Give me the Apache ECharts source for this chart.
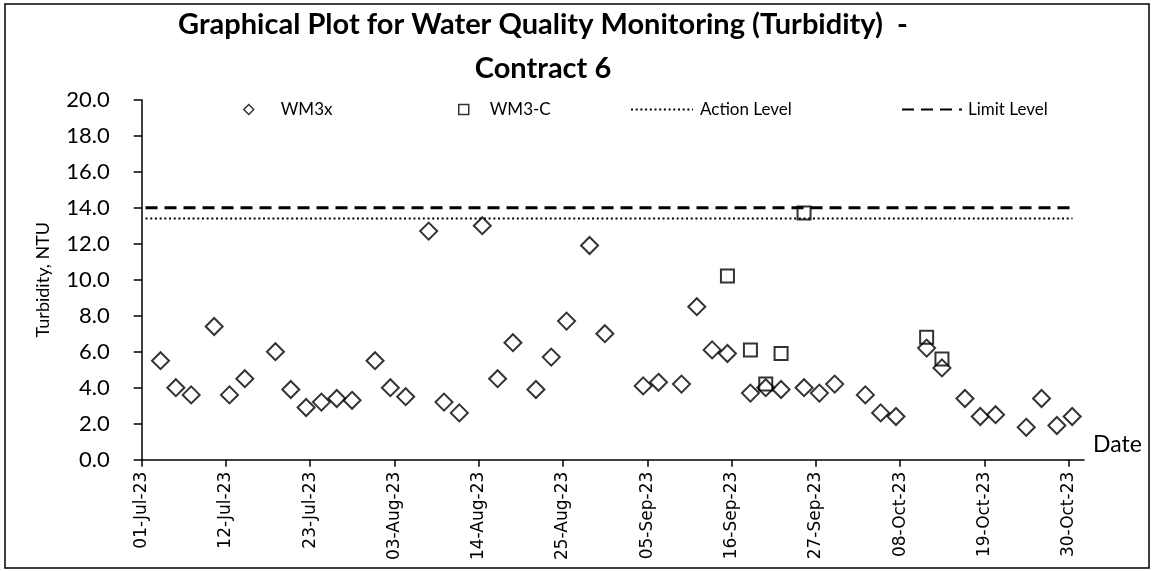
<!DOCTYPE html>
<html>
<head>
<meta charset="utf-8">
<title>Turbidity - Contract 6</title>
<script src="https://cdn.jsdelivr.net/npm/echarts@6/dist/echarts.min.js"></script>
<style>
  html, body { margin: 0; padding: 0; background: #fff; }
  #chart { width: 1152px; height: 571px; }
</style>
</head>
<body>
<div id="chart"></div>
<script>
// Sampling dates and turbidity readings (NTU)
const sampleTime = '11:00';
const wm3xDates = [
  '2023-07-03', '2023-07-05', '2023-07-07', '2023-07-10', '2023-07-12', '2023-07-14',
  '2023-07-18', '2023-07-20', '2023-07-22', '2023-07-24', '2023-07-26', '2023-07-28',
  '2023-07-31', '2023-08-02', '2023-08-04', '2023-08-07', '2023-08-09', '2023-08-11',
  '2023-08-14', '2023-08-16', '2023-08-18', '2023-08-21', '2023-08-23', '2023-08-25',
  '2023-08-28', '2023-08-30', '2023-09-04', '2023-09-06', '2023-09-09', '2023-09-11',
  '2023-09-13', '2023-09-15', '2023-09-18', '2023-09-20', '2023-09-22', '2023-09-25',
  '2023-09-27', '2023-09-29', '2023-10-03', '2023-10-05', '2023-10-07', '2023-10-11',
  '2023-10-13', '2023-10-16', '2023-10-18', '2023-10-20', '2023-10-24', '2023-10-26',
  '2023-10-28', '2023-10-30'
];
const wm3xValues = [
  5.5, 4.0, 3.6, 7.4, 3.6, 4.5,
  6.0, 3.9, 2.9, 3.2, 3.4, 3.3,
  5.5, 4.0, 3.5, 12.7, 3.2, 2.6,
  13.0, 4.5, 6.5, 3.9, 5.7, 7.7,
  11.9, 7.0, 4.1, 4.3, 4.2, 8.5,
  6.1, 5.9, 3.7, 4.0, 3.9, 4.0,
  3.7, 4.2, 3.6, 2.6, 2.4, 6.2,
  5.1, 3.4, 2.4, 2.5, 1.8, 3.4,
  1.9, 2.4
];
const wm3cDates = ['2023-09-15', '2023-09-18', '2023-09-20', '2023-09-22', '2023-09-25', '2023-10-11', '2023-10-13'];
const wm3cValues = [10.2, 6.1, 4.2, 5.9, 13.7, 6.8, 5.6];

// Action / Limit levels (NTU) over the monitoring period
const levelDates = ['2023-07-01T12:00', '2023-10-30T12:00'];
const actionLevel = 13.4;
const limitLevel = 14.0;

// Date axis range and tick dates
const axisStart = '2023-07-01';
const axisEnd = '2023-11-01';
const tickDates = [
  '2023-07-01', '2023-07-12', '2023-07-23', '2023-08-03', '2023-08-14', '2023-08-25',
  '2023-09-05', '2023-09-16', '2023-09-27', '2023-10-08', '2023-10-19', '2023-10-30'
];

const monthNames = ['Jan', 'Feb', 'Mar', 'Apr', 'May', 'Jun', 'Jul', 'Aug', 'Sep', 'Oct', 'Nov', 'Dec'];

// Parse 'YYYY-MM-DD' or 'YYYY-MM-DDTHH:MM' as UTC milliseconds
function toMs(s, time) {
  const [d, t] = s.split('T');
  const [y, m, day] = d.split('-').map(Number);
  const [hh, mm] = (t || time || '00:00').split(':').map(Number);
  return Date.UTC(y, m - 1, day, hh, mm);
}
function fmtDate(ms) {
  const d = new Date(ms);
  const dd = String(d.getUTCDate()).padStart(2, '0');
  const yy = String(d.getUTCFullYear()).slice(2);
  return dd + '-' + monthNames[d.getUTCMonth()] + '-' + yy;
}

const wm3xData = wm3xDates.map((d, i) => [toMs(d, sampleTime), wm3xValues[i]]);
const wm3cData = wm3cDates.map((d, i) => [toMs(d, sampleTime), wm3cValues[i]]);
const actionData = levelDates.map(d => [toMs(d), actionLevel]);
const limitData = levelDates.map(d => [toMs(d), limitLevel]);
const tickMs = tickDates.map(d => toMs(d));

const latin = 'Lato, "Open Sans", sans-serif';
const black = '#000';

const chart = echarts.init(document.getElementById('chart'), null, { renderer: 'canvas' });

const legendBase = {
  orient: 'horizontal',
  top: 96,
  itemGap: 0,
  selectedMode: false,
  textStyle: { fontFamily: latin, fontSize: 17, color: black }
};
// line legends: plain line, no centre marker
const lineLegendItem = { color: 'rgba(0,0,0,0)', borderWidth: 0, opacity: 0 };
const withPad = p => Object.assign({}, legendBase.textStyle, { padding: [0, 0, 0, p] });

chart.setOption({
  backgroundColor: '#fff',
  animation: false,
  title: {
    text: 'Graphical Plot for Water Quality Monitoring (Turbidity)  -\nContract 6',
    left: 538,
    top: -2,
    textAlign: 'center',
    textStyle: {
      fontFamily: latin, fontSize: 29, fontWeight: 'bold', color: black, lineHeight: 44
    }
  },
  graphic: [{
    type: 'rect',
    shape: { x: 5, y: 4, width: 1144, height: 564 },
    style: { fill: 'none', stroke: black, lineWidth: 1.5 },
    silent: true
  }],
  legend: [
    Object.assign({}, legendBase, {
      left: 238, data: ['WM3x'], itemWidth: 10, itemHeight: 10,
      itemStyle: { borderWidth: 1.5 }, textStyle: withPad(22)
    }),
    Object.assign({}, legendBase, {
      left: 453, data: ['WM3-C'], itemWidth: 10, itemHeight: 10,
      itemStyle: { borderWidth: 1.5 }, textStyle: withPad(16)
    }),
    Object.assign({}, legendBase, {
      left: 625, data: ['Action Level'], itemWidth: 62, itemHeight: 12,
      itemStyle: lineLegendItem, textStyle: withPad(2)
    }),
    Object.assign({}, legendBase, {
      left: 896, data: ['Limit Level'], itemWidth: 60, itemHeight: 12,
      itemStyle: lineLegendItem, textStyle: withPad(1)
    })
  ],
  grid: {
    left: 141.7, right: 68, top: 99.7, bottom: 111.3,
    containLabel: false, outerBoundsMode: 'none'
  },
  xAxis: {
    type: 'value',
    min: toMs(axisStart),
    max: toMs(axisEnd),
    name: 'Date',
    nameLocation: 'end',
    nameGap: 9,
    nameTextStyle: {
      fontFamily: latin, fontSize: 23, color: black, verticalAlign: 'bottom', lineHeight: 30
    },
    axisLine: { show: true, onZero: false, lineStyle: { color: black, width: 1.5 } },
    axisTick: {
      show: true, inside: false, length: 7, customValues: tickMs,
      lineStyle: { color: black, width: 1.5 }
    },
    axisLabel: {
      customValues: tickMs,
      rotate: 90,
      margin: 12,
      fontFamily: '"DejaVu Sans", Verdana, sans-serif',
      fontSize: 17,
      color: black,
      formatter: v => fmtDate(v)
    },
    splitLine: { show: false }
  },
  yAxis: {
    type: 'value',
    min: 0,
    max: 20,
    interval: 2,
    name: 'Turbidity, NTU',
    nameLocation: 'middle',
    nameGap: 90,
    nameTextStyle: { fontFamily: latin, fontSize: 18, color: black },
    axisLine: { show: true, lineStyle: { color: black, width: 1.5 } },
    axisTick: { show: true, inside: false, length: 8, lineStyle: { color: black, width: 1.5 } },
    axisLabel: {
      margin: 32,
      fontFamily: latin,
      fontSize: 22,
      color: black,
      formatter: v => v.toFixed(1)
    },
    splitLine: { show: false }
  },
  series: [
    {
      name: 'Action Level',
      type: 'line',
      data: actionData,
      symbol: 'none',
      lineStyle: { color: black, width: 2, type: [2, 2.7] },
      itemStyle: { color: black },
      z: 2
    },
    {
      name: 'Limit Level',
      type: 'line',
      data: limitData,
      symbol: 'none',
      lineStyle: { color: black, width: 3, type: [12, 7] },
      itemStyle: { color: black },
      z: 2
    },
    {
      name: 'WM3x',
      type: 'scatter',
      data: wm3xData,
      symbol: 'diamond',
      symbolSize: 17,
      itemStyle: { color: 'rgba(255,255,255,0)', borderColor: black, borderWidth: 2 },
      z: 3
    },
    {
      name: 'WM3-C',
      type: 'scatter',
      data: wm3cData,
      symbol: 'rect',
      symbolSize: 13,
      itemStyle: { color: 'rgba(255,255,255,0)', borderColor: black, borderWidth: 2 },
      z: 4
    }
  ]
});
</script>
</body>
</html>
